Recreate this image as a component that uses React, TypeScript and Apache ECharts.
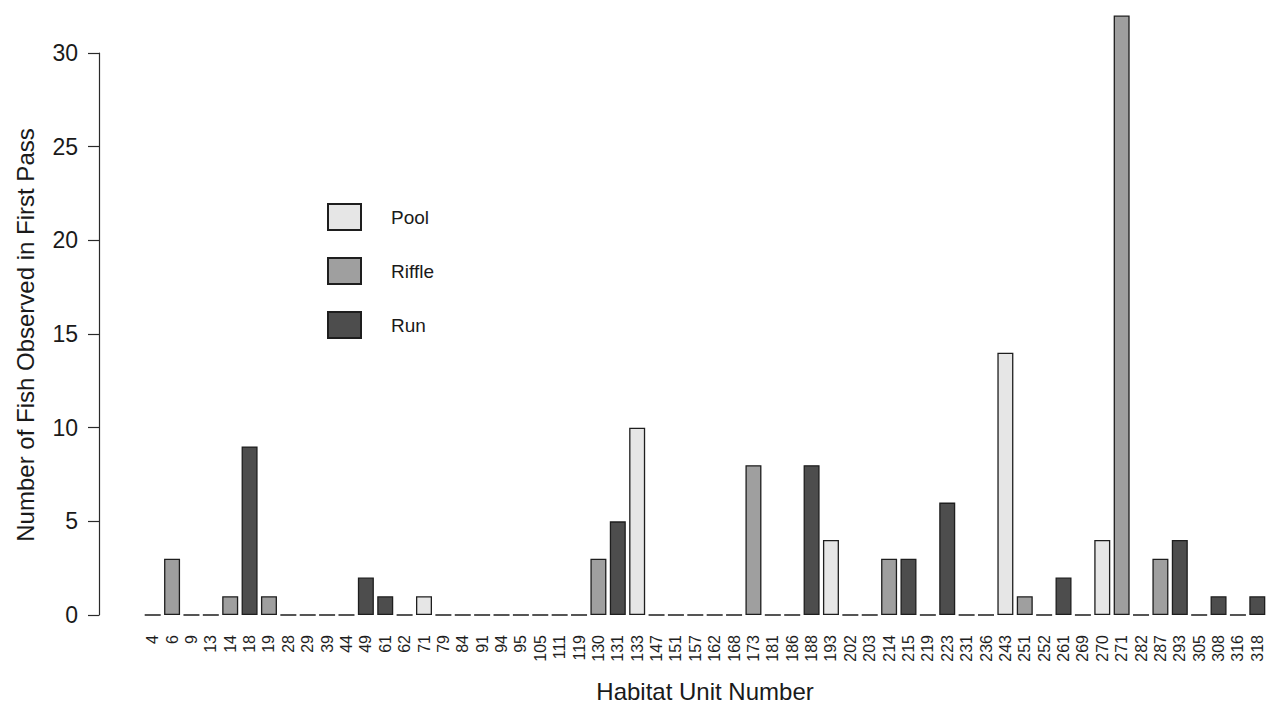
import React, { useEffect, useRef } from "react";
import * as echarts from "echarts";

const categories = [
  "4", "6", "9", "13", "14", "18", "19", "28", "29", "39", "44", "49", "61", "62",
  "71", "79", "84", "91", "94", "95", "105", "111", "119", "130", "131", "133",
  "147", "151", "157", "162", "168", "173", "181", "186", "188", "193", "202",
  "203", "214", "215", "219", "223", "231", "236", "243", "251", "252", "261",
  "269", "270", "271", "282", "287", "293", "305", "308", "316", "318",
];

// habitat type of each unit ("" = no fish, type not shown)
const habitatTypes = [
  "", "Riffle", "", "", "Riffle", "Run", "Riffle", "", "", "", "", "Run", "Run", "",
  "Pool", "", "", "", "", "", "", "", "", "Riffle", "Run", "Pool",
  "", "", "", "", "", "Riffle", "", "", "Run", "Pool", "",
  "", "Riffle", "Run", "", "Run", "", "", "Pool", "Riffle", "", "Run",
  "", "Pool", "Riffle", "", "Riffle", "Run", "", "Run", "", "Run",
];

const fishCounts = [
  0, 3, 0, 0, 1, 9, 1, 0, 0, 0, 0, 2, 1, 0,
  1, 0, 0, 0, 0, 0, 0, 0, 0, 3, 5, 10,
  0, 0, 0, 0, 0, 8, 0, 0, 8, 4, 0,
  0, 3, 3, 0, 6, 0, 0, 14, 1, 0, 2,
  0, 4, 32, 0, 3, 4, 0, 1, 0, 1,
];

const typeNames = ["Pool", "Riffle", "Run"];
const typeColors = ["#e6e6e6", "#9f9f9f", "#4d4d4d"];
const yTicks = [0, 5, 10, 15, 20, 25, 30];

const FONT = "'Liberation Sans', Arial, Helvetica, sans-serif";

export default function App() {
  const ref = useRef<HTMLDivElement>(null);

  useEffect(() => {
    if (!ref.current) return;
    const chart = echarts.init(ref.current, null, { renderer: "svg" });

    const series = typeNames.map((t, k) => ({
      name: t,
      type: "bar",
      barWidth: 16,
      barGap: "-100%",
      clip: false,
      itemStyle: { color: typeColors[k], borderColor: "#1e1e1e", borderWidth: 1.3 },
      data: fishCounts.map((v, i) =>
        habitatTypes[i] === t || (habitatTypes[i] === "" && k === 0) ? v : "-"
      ),
    }));

    chart.setOption({
      animation: false,
      backgroundColor: "#ffffff",
      textStyle: { fontFamily: FONT },
      grid: { left: 143, right: 4, top: 53, bottom: 90 },
      legend: {
        orient: "vertical",
        left: 327,
        top: 203,
        padding: 0,
        itemWidth: 33,
        itemHeight: 26,
        itemGap: 26,
        icon: "rect",
        selectedMode: false,
        data: typeNames,
        textStyle: { fontSize: 19, color: "#1a1a1a", fontFamily: FONT, padding: [0, 0, 0, 25] },
      },
      xAxis: {
        type: "category",
        data: categories,
        name: "Habitat Unit Number",
        nameLocation: "middle",
        nameGap: 64,
        nameTextStyle: { fontSize: 24, color: "#1a1a1a", fontFamily: FONT },
        axisLine: { show: false },
        axisTick: { show: false },
        axisLabel: {
          interval: 0,
          rotate: 90,
          margin: 20,
          fontSize: 16,
          color: "#1e1e1e",
          fontFamily: FONT,
        },
      },
      yAxis: {
        type: "value",
        min: yTicks[0],
        max: yTicks[yTicks.length - 1],
        interval: 5,
        offset: 44,
        splitLine: { show: false },
        axisLine: { show: true, lineStyle: { color: "#2a2a2a", width: 1.2 } },
        axisTick: { show: true, length: 11, lineStyle: { color: "#2a2a2a", width: 1.2 } },
        axisLabel: { margin: 21, fontSize: 23, color: "#1a1a1a", fontFamily: FONT },
      },
      graphic: [
        {
          type: "text",
          x: 25,
          y: 335,
          rotation: Math.PI / 2,
          style: {
            text: "Number of Fish Observed in First Pass",
            fontSize: 24,
            fontFamily: FONT,
            fill: "#1a1a1a",
            textAlign: "center",
            textVerticalAlign: "middle",
          },
        },
      ],
      series,
    });

    return () => chart.dispose();
  }, []);

  return <div ref={ref} style={{ width: 1271, height: 708, position: "absolute", left: 0, top: 0 }} />;
}
